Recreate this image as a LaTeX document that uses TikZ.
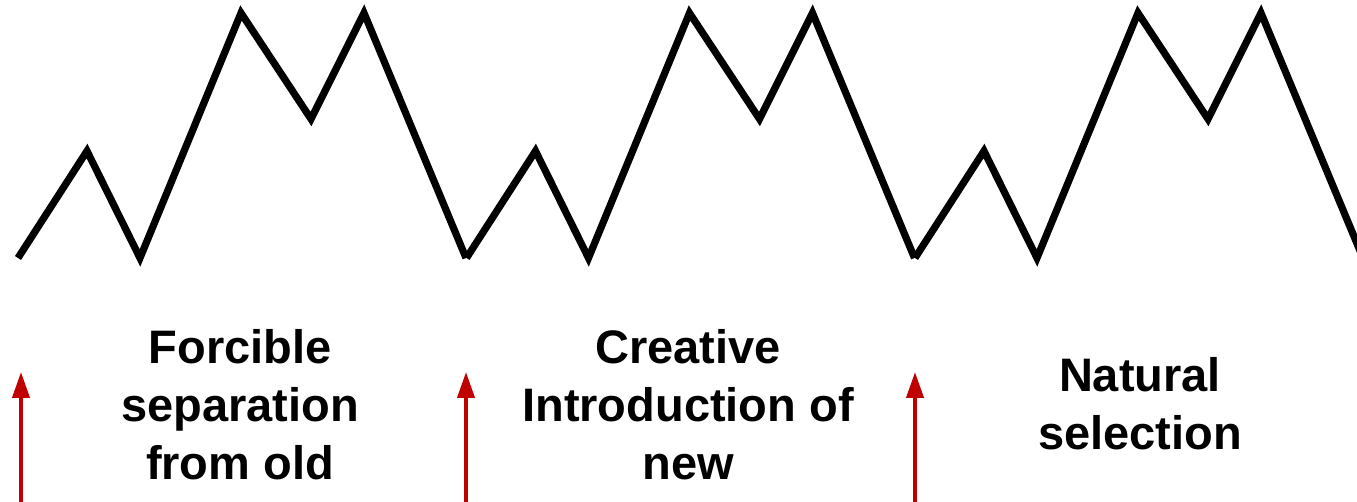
\documentclass[tikz,border=0pt]{standalone}
\usepackage{fontspec}
\setmainfont{Liberation Sans}
\usetikzlibrary{arrows.meta}
\definecolor{pushred}{RGB}{192,0,0}

\begin{document}
\begin{tikzpicture}[x=0.5pt,y=-0.5pt,
  ridge/.style={line width=3.6pt,line join=miter},
  push/.style={draw=pushred,line width=2pt,-{Triangle[width=8.5pt,length=13pt]}},
  phase/.style={align=center,font=\bfseries\fontsize{23.5}{29}\selectfont}]
  \useasboundingbox (0,0) rectangle (1357,502);
  % zigzag, one period per phase
  \foreach \s in {0,448.5,897}
    \draw[ridge] (18+\s,258) -- (87+\s,151) -- (140+\s,258) -- (241+\s,13)
      -- (311+\s,119) -- (364+\s,13) -- (466+\s,258);
  % phases
  \node[phase] (old) at (240,405) {Forcible\\separation\\from old};
  \node[phase] (new) at (688,405) {Creative\\Introduction of\\new};
  \node[phase] (sel) at (1140,404) {Natural\\selection};
  % red arrows
  \coordinate (a1) at (21,502);  \coordinate (t1) at (21,372);
  \coordinate (a2) at (466,502); \coordinate (t2) at (466,372);
  \coordinate (a3) at (915,502); \coordinate (t3) at (915,372);
  \draw[push] (a1) -- (t1);
  \draw[push] (a2) -- (t2);
  \draw[push] (a3) -- (t3);
\end{tikzpicture}
\end{document}
